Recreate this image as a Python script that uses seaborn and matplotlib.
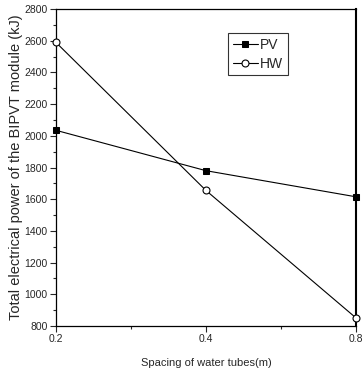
import numpy as np
import pandas as pd
import seaborn as sns
import matplotlib.pyplot as plt
from matplotlib.ticker import MultipleLocator

# dati
spaziatura = ["0.2", "0.4", "0.8"]
pv = [2035, 1780, 1615]
hw = [2590, 1655, 850]

pos = np.arange(len(spaziatura))
df = pd.DataFrame({"pos": np.concatenate([pos, pos]),
                   "valore": pv + hw,
                   "serie": ["PV"] * 3 + ["HW"] * 3})

sns.set_style("ticks")
plt.rcParams['font.family'] = ['Liberation Sans', 'DejaVu Sans']

fig = plt.figure(figsize=(3.63, 3.79), dpi=100)
ax = fig.add_axes([0.154, 0.14, 0.827, 0.836])

sns.lineplot(data=df[df.serie == "PV"], x="pos", y="valore", ax=ax, color="black",
             marker="s", markersize=4, markerfacecolor="black", markeredgecolor="black",
             linewidth=0.8, label="PV", clip_on=False, zorder=3)
sns.lineplot(data=df[df.serie == "HW"], x="pos", y="valore", ax=ax, color="black",
             marker="o", markersize=5, markerfacecolor="white", markeredgecolor="black",
             markeredgewidth=0.8, linewidth=0.8, label="HW", clip_on=False, zorder=3)

ax.set_xlim(0, 2)
ax.set_ylim(800, 2800)
ax.set_xticks(pos)
ax.set_xticklabels(spaziatura)
ax.xaxis.set_minor_locator(MultipleLocator(0.5))
ax.yaxis.set_major_locator(MultipleLocator(200))
ax.yaxis.set_minor_locator(MultipleLocator(100))
ax.tick_params(which="both", direction="out", labelsize=7.5, width=0.8, pad=2,
               top=False, right=False)
ax.tick_params(which="major", length=4)
ax.tick_params(which="minor", length=2)
for s in ax.spines.values():
    s.set_linewidth(0.9)
    s.set_color("black")
ax.spines["right"].set_linewidth(1.5)

ax.set_xlabel("Spacing of water tubes(m)", fontsize=8, labelpad=10)
ax.set_ylabel("Total electrical power of the BIPVT module (kJ)", fontsize=10.5, labelpad=1)

leg = ax.legend(loc="upper left", bbox_to_anchor=(0.573, 0.925), fontsize=10,
                frameon=True, fancybox=False, edgecolor="black", handlelength=1.8,
                handletextpad=0.15, borderpad=0.35, labelspacing=0.35, borderaxespad=0)
leg.get_frame().set_linewidth(0.8)

plt.savefig("out.png", dpi=100)
